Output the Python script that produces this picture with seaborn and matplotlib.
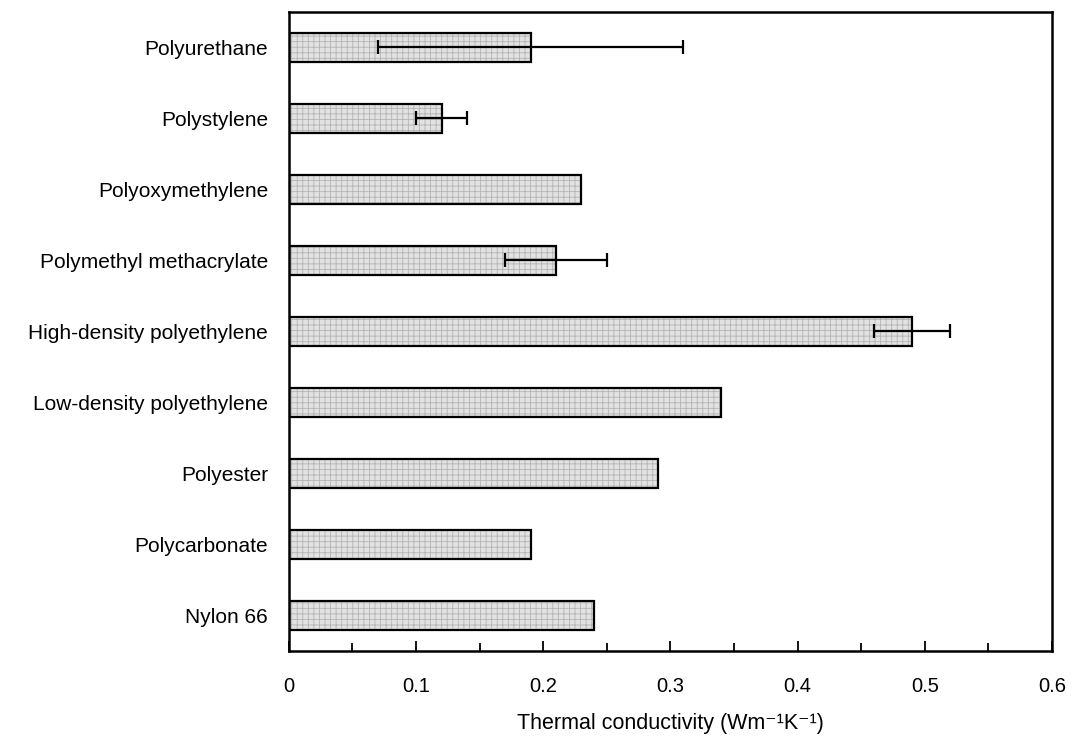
import numpy as np
import pandas as pd
import matplotlib
matplotlib.use("Agg")
import matplotlib.pyplot as plt
import seaborn as sns
from matplotlib.ticker import MultipleLocator

materials = [
    "Polyurethane",
    "Polystylene",
    "Polyoxymethylene",
    "Polymethyl methacrylate",
    "High-density polyethylene",
    "Low-density polyethylene",
    "Polyester",
    "Polycarbonate",
    "Nylon 66",
]
conductivity = [0.19, 0.12, 0.23, 0.21, 0.49, 0.34, 0.29, 0.19, 0.24]
spread = [0.12, 0.02, 0.0, 0.04, 0.03, 0.0, 0.0, 0.0, 0.0]
x_ticks = [0, 0.1, 0.2, 0.3, 0.4, 0.5, 0.6]
x_tick_labels = ["0", "0.1", "0.2", "0.3", "0.4", "0.5", "0.6"]

df = pd.DataFrame({"material": materials, "k": conductivity, "err": spread})

sns.set_theme(style="white")
plt.rcParams["font.family"] = ["Liberation Sans", "DejaVu Sans"]
plt.rcParams["hatch.linewidth"] = 0.6
plt.rcParams["text.color"] = "black"
plt.rcParams["axes.labelcolor"] = "black"
plt.rcParams["xtick.color"] = "black"
plt.rcParams["ytick.color"] = "black"

fig, ax = plt.subplots(figsize=(10.74, 7.38), dpi=100)
fig.subplots_adjust(left=0.269, right=0.9795, top=0.984, bottom=0.118)

# hatched fill layer
sns.barplot(data=df, y="material", x="k", orient="h", ax=ax, color="#e2e2e2",
            saturation=1, width=0.41, hatch="+++", edgecolor="#b4b4b4",
            linewidth=0, errorbar=None)
# black outline layer
sns.barplot(data=df, y="material", x="k", orient="h", ax=ax, fill=False,
            width=0.41, edgecolor="black", linewidth=1.6, errorbar=None)

has_err = df["err"] > 0
pos = np.arange(len(df))[has_err.values]
ax.errorbar(df.loc[has_err, "k"], pos, xerr=df.loc[has_err, "err"], fmt="none",
            ecolor="black", elinewidth=1.6, capsize=5, capthick=1.6, zorder=5)

ax.set_xlim(0, 0.6)
ax.set_ylim(8.5, -0.5)
ax.set_xticks(x_ticks)
ax.set_xticklabels(x_tick_labels)
ax.xaxis.set_minor_locator(MultipleLocator(0.05))
ax.tick_params(axis="x", which="major", direction="in", length=7, width=1.3,
               labelsize=14.5, pad=19, color="black", labelcolor="black", bottom=True)
ax.tick_params(axis="x", which="minor", direction="in", length=6, width=1.3,
               bottom=True, color="black")
ax.tick_params(axis="y", length=0, labelsize=15, pad=15, labelcolor="black")

for s in ax.spines.values():
    s.set_visible(True)
    s.set_color("black")
    s.set_linewidth(1.8)

ax.set_ylabel("")
ax.set_xlabel("Thermal conductivity (Wm\u207b\u00b9K\u207b\u00b9)", fontsize=15.5,
              labelpad=12, color="black")

fig.savefig("out.png", dpi=100, facecolor="white")
